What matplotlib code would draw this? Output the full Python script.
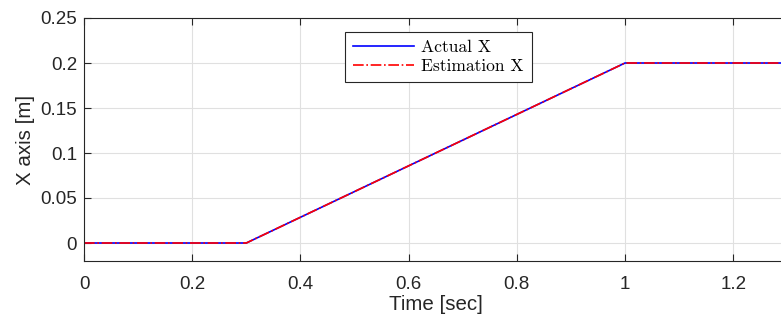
import matplotlib
matplotlib.use("Agg")
import matplotlib.pyplot as plt
import numpy as np

# trajectory breakpoints (time [sec], position [m])
t_pts = [0.0, 0.3, 1.0, 1.5]
x_actual = [0.0, 0.0, 0.2, 0.2]
x_est = [0.0, 0.0, 0.2, 0.2]

plt.rcParams['font.family'] = ['Liberation Sans', 'DejaVu Sans']

fig = plt.figure(figsize=(7.81, 3.22), dpi=100)
# axes runs slightly past the right edge of the image, like the cropped original
ax = fig.add_axes([84 / 781, 61 / 322, 1.3 * 541 / 781, 243 / 322])

ax.plot(t_pts, x_actual, color='blue', lw=1.2, label='Actual X')
ax.plot(t_pts, x_est, color='red', lw=1.2, ls='-.', label='Estimation X')

ax.set_xlim(0, 1.3)
ax.set_ylim(-0.02, 0.25)
ax.set_xticks([0, 0.2, 0.4, 0.6, 0.8, 1.0, 1.2])
ax.set_xticklabels(['0', '0.2', '0.4', '0.6', '0.8', '1', '1.2'])
ax.set_yticks([0, 0.05, 0.1, 0.15, 0.2, 0.25])
ax.set_yticklabels(['0', '0.05', '0.1', '0.15', '0.2', '0.25'])
ax.grid(True, color='#e0e0e0', lw=0.8)
ax.set_axisbelow(True)
ax.tick_params(direction='in', labelsize=13.5, colors='#262626', length=5, top=True)
ax.tick_params(axis='x', pad=11)
ax.tick_params(axis='y', pad=5)
for s in ax.spines.values():
    s.set_color('#262626')
    s.set_linewidth(0.8)

ax.set_xlabel('Time [sec]', fontsize=14.8, color='#262626', labelpad=1.5)
ax.set_ylabel('X axis [m]', fontsize=14.8, color='#262626', labelpad=4)

leg = ax.legend(loc='upper left', bbox_to_anchor=((345 - 84) / (1.3 * 541), 1 - 14 / 243),
                prop={'family': 'cmr10', 'size': 12.6}, fancybox=False,
                edgecolor='#262626', framealpha=1, borderpad=0.45, labelspacing=0.22,
                handlelength=3.5, handletextpad=0.4, borderaxespad=0)
leg.get_frame().set_linewidth(0.8)

fig.savefig('out.png', dpi=100)
